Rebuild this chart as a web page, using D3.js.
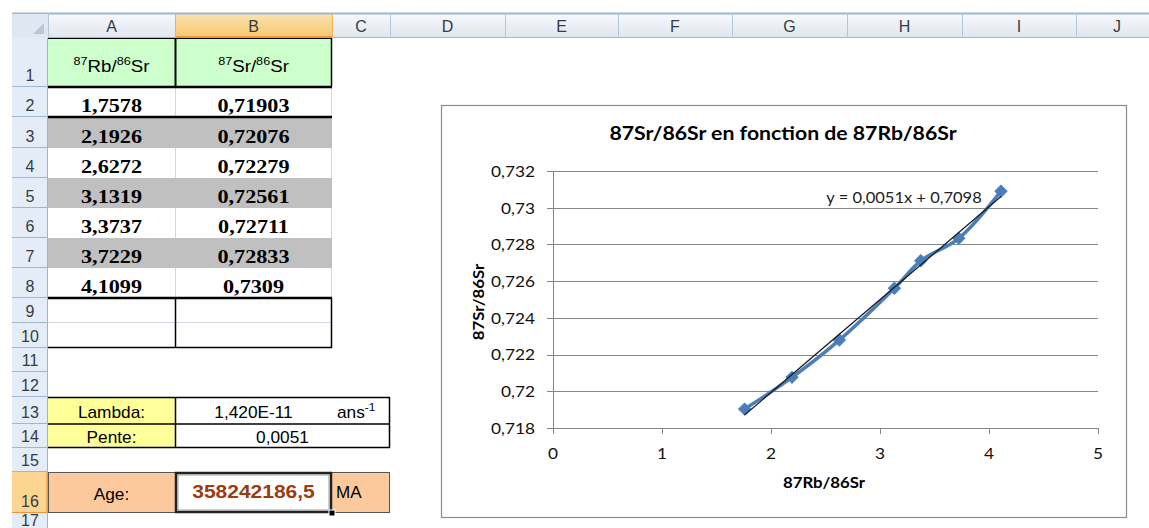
<!DOCTYPE html>
<html><head><meta charset="utf-8">
<script src="https://cdn.jsdelivr.net/npm/d3@7"></script>
<style>html,body{margin:0;padding:0;background:#fff;overflow:hidden}</style>
</head><body><svg id="c" width="1149" height="528"></svg>
<script>
// ---------- data ----------
const rbSr = [1.7578, 2.1926, 2.6272, 3.1319, 3.3737, 3.7229, 4.1099];
const srSr = [0.71903, 0.72076, 0.72279, 0.72561, 0.72711, 0.72833, 0.7309];
const xTicks = [0, 1, 2, 3, 4, 5];
const yTicks = [0.718, 0.72, 0.722, 0.724, 0.726, 0.728, 0.73, 0.732];
const colLetters = ["A", "B", "C", "D", "E", "F", "G", "H", "I", "J"];
const rowNumbers = [1, 2, 3, 4, 5, 6, 7, 8, 9, 10, 11, 12, 13, 14, 15, 16, 17];
const chartTitle = "87Sr/86Sr en fonction de 87Rb/86Sr";
const xTitle = "87Rb/86Sr";
const yTitle = "87Sr/86Sr";
const eqLabel = "y = 0,0051x + 0,7098";
const lambdaLabel = "Lambda:", lambdaValue = "1,420E-11", lambdaUnit = "ans";
const penteLabel = "Pente:", penteValue = "0,0051";
const ageLabel = "Age:", ageValue = "358242186,5", ageUnit = "MA";

// ---------- layout ----------
const W = 1149, H = 528;
const colX = [48, 175, 332, 390, 505, 618, 732, 847, 962, 1076, 1158];
const rowY = [38, 87, 117, 148, 178, 208, 238, 268, 298, 323, 348, 372, 397, 424, 448, 472, 513, 540];
const hdrTop = 13, rhLeft = 12;

const svg = d3.select("#c");
const defs = svg.append("defs");
function grad(id, c1, c2) {
  const g = defs.append("linearGradient").attr("id", id).attr("x1", 0).attr("y1", 0).attr("x2", 0).attr("y2", 1);
  g.append("stop").attr("offset", 0).attr("stop-color", c1);
  g.append("stop").attr("offset", 1).attr("stop-color", c2);
}
grad("hdr", "#f7f9fc", "#dfe6f0");
grad("hdrSel", "#fbe3b0", "#f6c76c");
const fmtC = v => String(v).replace(".", ",");
const SANS = "'Liberation Sans', Arial, sans-serif";
const SERIF = "'Liberation Serif', 'Times New Roman', serif";
const CAL = "Lato, 'Open Sans', sans-serif";

function txt(g, x, y, s, opt) {
  opt = opt || {};
  const t = g.append("text")
    .attr("transform", `translate(${x},${y}) ${opt.rot ? "rotate(" + opt.rot + ")" : ""} scale(${opt.sx || 1},1)`)
    .attr("text-anchor", opt.anchor || "middle")
    .attr("font-family", opt.family || SANS)
    .attr("font-size", opt.size || 15)
    .attr("font-weight", opt.weight || "normal")
    .attr("fill", opt.fill || "#000")
    .text(s);
  return t;
}

const sheet = svg.append("g");

// column header band
sheet.append("rect").attr("x", rhLeft).attr("y", hdrTop).attr("width", W - rhLeft).attr("height", rowY[0] - hdrTop).attr("fill", "url(#hdr)");
sheet.append("rect").attr("x", colX[1]).attr("y", hdrTop).attr("width", colX[2] - colX[1]).attr("height", rowY[0] - hdrTop).attr("fill", "url(#hdrSel)");
sheet.append("line").attr("x1", rhLeft).attr("x2", W).attr("y1", hdrTop + 0.5).attr("y2", hdrTop + 0.5).attr("stroke", "#9eb6ce").attr("stroke-width", 2);
sheet.append("line").attr("x1", rhLeft).attr("x2", W).attr("y1", rowY[0] - 0.5).attr("y2", rowY[0] - 0.5).attr("stroke", "#9eb6ce");
sheet.append("line").attr("x1", colX[1]).attr("x2", colX[2]).attr("y1", rowY[0] - 1).attr("y2", rowY[0] - 1).attr("stroke", "#f29536").attr("stroke-width", 2);
colX.slice(0, 10).forEach((x, i) => {
  sheet.append("line").attr("x1", x + 0.5).attr("x2", x + 0.5).attr("y1", hdrTop).attr("y2", rowY[0]).attr("stroke", i === 1 || i === 2 ? "#f0b25a" : "#b4c6da");
});
colLetters.forEach((c, i) => {
  txt(sheet, (colX[i] + colX[i + 1]) / 2, 32, c, { size: 16, fill: "#333b45" });
});
// select-all corner
sheet.append("rect").attr("x", rhLeft).attr("y", hdrTop + 1).attr("width", colX[0] - rhLeft).attr("height", rowY[0] - hdrTop - 1).attr("fill", "#dfe7f2");
sheet.append("path").attr("d", `M${colX[0] - 4},${rowY[0] - 4} L${colX[0] - 4},${rowY[0] - 15} L${colX[0] - 15},${rowY[0] - 4} Z`).attr("fill", "#b9c6d6");

// row headers
rowNumbers.forEach((n, i) => {
  const y0 = rowY[i], y1 = rowY[i + 1];
  const sel = n === 16;
  sheet.append("rect").attr("x", rhLeft).attr("y", y0).attr("width", colX[0] - rhLeft).attr("height", y1 - y0)
    .attr("fill", sel ? "#fdd592" : "#e4ecf7");
  sheet.append("line").attr("x1", rhLeft).attr("x2", colX[0]).attr("y1", y1 - 0.5).attr("y2", y1 - 0.5).attr("stroke", sel ? "#f29536" : "#9eb6ce");
  txt(sheet, (rhLeft + colX[0]) / 2, Math.min(y1 - 6, H - 2), String(n), { size: 16, fill: "#333b45" });
});
sheet.append("line").attr("x1", colX[0] - 0.5).attr("x2", colX[0] - 0.5).attr("y1", rowY[0]).attr("y2", H).attr("stroke", "#9eb6ce");
sheet.append("line").attr("x1", colX[0] - 0.5).attr("x2", colX[0] - 0.5).attr("y1", rowY[15]).attr("y2", rowY[16]).attr("stroke", "#f29536").attr("stroke-width", 2);

// ---------- data table ----------
const A0 = colX[0], A1 = colX[1], B1 = colX[2], C1 = colX[3];
sheet.append("rect").attr("x", A0).attr("y", rowY[0]).attr("width", B1 - A0).attr("height", rowY[1] - rowY[0]).attr("fill", "#ccffcc");
function supLabel(x, y, a, b, c, d) {
  const t = sheet.append("text").attr("transform", `translate(${x},${y}) scale(1.1,1)`).attr("text-anchor", "middle")
    .attr("font-family", SANS).attr("font-size", 17).attr("fill", "#000");
  t.append("tspan").attr("font-size", 11.5).attr("dy", -7).text(a);
  t.append("tspan").attr("dy", 7).text(b);
  t.append("tspan").attr("font-size", 11.5).attr("dy", -7).text(c);
  t.append("tspan").attr("dy", 7).text(d);
}
supLabel((A0 + A1) / 2, 72, "87", "Rb/", "86", "Sr");
supLabel((A1 + B1) / 2, 72, "87", "Sr/", "86", "Sr");

rbSr.forEach((v, i) => {
  const y0 = rowY[1 + i], y1 = rowY[2 + i];
  const gray = i % 2 === 1;
  sheet.append("rect").attr("x", A0).attr("y", y0).attr("width", B1 - A0).attr("height", y1 - y0).attr("fill", gray ? "#c0c0c0" : "#fff");
  sheet.append("line").attr("x1", A1 + 0.5).attr("x2", A1 + 0.5).attr("y1", y0).attr("y2", y1).attr("stroke", gray ? "#c0c0c0" : "#d0d7e5");
  if (!gray) sheet.append("line").attr("x1", B1 - 0.5).attr("x2", B1 - 0.5).attr("y1", y0).attr("y2", y1).attr("stroke", "#d0d7e5");
  txt(sheet, (A0 + A1) / 2, y1 - 5, fmtC(v), { family: SERIF, weight: "bold", size: 18.5, sx: 1.2 });
  txt(sheet, (A1 + B1) / 2, y1 - 5, fmtC(srSr[i]), { family: SERIF, weight: "bold", size: 18.5, sx: 1.2 });
});
const blk = (x1, y1, x2, y2, w) => sheet.append("line").attr("x1", x1).attr("y1", y1).attr("x2", x2).attr("y2", y2).attr("stroke", "#000").attr("stroke-width", w || 1);
blk(A0, rowY[0] + 0.5, B1, rowY[0] + 0.5, 1);
blk(A1 + 0.5, rowY[0], A1 + 0.5, rowY[1], 2);
blk(B1 - 0.5, rowY[0], B1 - 0.5, rowY[1], 1.5);
blk(A0, rowY[1], B1, rowY[1], 2.5);
blk(A0, rowY[2], B1, rowY[2], 2.5);
blk(A0, rowY[8], B1, rowY[8], 2.5);
sheet.append("line").attr("x1", A0).attr("x2", B1).attr("y1", rowY[9] - 0.5).attr("y2", rowY[9] - 0.5).attr("stroke", "#d0d7e5");
blk(A1 + 0.5, rowY[8], A1 + 0.5, rowY[10], 1.5);
blk(B1 - 0.5, rowY[8], B1 - 0.5, rowY[10], 1.5);
blk(A0, rowY[10] - 0.5, B1, rowY[10] - 0.5, 1.5);

// ---------- lambda / pente ----------
const r13 = rowY[12], r14 = rowY[13], r15 = rowY[14];
sheet.append("rect").attr("x", A0).attr("y", r13).attr("width", A1 - A0).attr("height", r15 - r13).attr("fill", "#ffff99");
blk(A0, r13 + 0.5, C1, r13 + 0.5, 1.5);
blk(A0, r14, C1, r14, 1.5);
blk(A0, r15 - 0.5, C1, r15 - 0.5, 1.5);
blk(A1 + 0.5, r13, A1 + 0.5, r15, 1.5);
blk(C1 - 0.5, r13, C1 - 0.5, r15, 1.5);
txt(sheet, (A0 + A1) / 2, r14 - 6, lambdaLabel, { size: 16, sx: 1.08 });
txt(sheet, (A0 + A1) / 2, r15 - 5, penteLabel, { size: 16, sx: 1.08 });
txt(sheet, (A1 + B1) / 2, r14 - 6, lambdaValue, { size: 16, sx: 1.08 });
txt(sheet, (A1 + C1) / 2, r15 - 5, penteValue, { size: 16, sx: 1.08 });
{
  const t = sheet.append("text").attr("transform", `translate(${B1 + 5},${r14 - 6}) scale(1.08,1)`)
    .attr("font-family", SANS).attr("font-size", 16).attr("fill", "#000");
  t.append("tspan").text(lambdaUnit);
  t.append("tspan").attr("font-size", 11).attr("dy", -7).text("-1");
}

// ---------- age row ----------
const r16 = rowY[15], r17 = rowY[16];
sheet.append("rect").attr("x", A0).attr("y", r16).attr("width", C1 - A0).attr("height", r17 - r16).attr("fill", "#fcc99c");
sheet.append("rect").attr("x", A0 + 0.5).attr("y", r16 + 0.5).attr("width", C1 - A0 - 1).attr("height", r17 - r16 - 1).attr("fill", "none").attr("stroke", "#555").attr("stroke-width", 1);
sheet.append("rect").attr("x", A1).attr("y", r16).attr("width", B1 - A1).attr("height", r17 - r16).attr("fill", "#fff");
sheet.append("rect").attr("x", A1 + 1).attr("y", r16 + 1).attr("width", B1 - A1 - 2).attr("height", r17 - r16 - 2).attr("fill", "none").attr("stroke", "#222").attr("stroke-width", 2.5);
sheet.append("rect").attr("x", A1 + 3).attr("y", r16 + 3).attr("width", B1 - A1 - 6).attr("height", r17 - r16 - 6).attr("fill", "none").attr("stroke", "#888").attr("stroke-width", 0.8);
sheet.append("rect").attr("x", B1 - 3).attr("y", r17 - 3).attr("width", 6).attr("height", 6).attr("fill", "#000").attr("stroke", "#fff");
txt(sheet, (A0 + A1) / 2, r17 - 13, ageLabel, { size: 16, sx: 1.08 });
txt(sheet, (A1 + B1) / 2, r17 - 15, ageValue, { size: 17.5, sx: 1.2, weight: "bold", fill: "#9c3c10" });
txt(sheet, B1 + 4, r17 - 15, ageUnit, { size: 17, anchor: "start" });

// ---------- chart ----------
const chart = svg.append("g");
const box = { x: 441, y: 105, w: 685, h: 412 };
chart.append("rect").attr("x", box.x + 0.5).attr("y", box.y + 0.5).attr("width", box.w).attr("height", box.h)
  .attr("fill", "#fff").attr("stroke", "#8c8c8c").attr("stroke-width", 1.2);

const x = d3.scaleLinear().domain([0, 5]).range([553, 1098]);
const y = d3.scaleLinear().domain([0.718, 0.732]).range([428, 171]);
const fmtTick = v => d3.format("~g")(+v.toFixed(4)).replace(".", ",");

chart.append("g").selectAll("line").data(yTicks).join("line")
  .attr("x1", x(0) - 6).attr("x2", x(5)).attr("y1", d => Math.round(y(d)) + 0.5).attr("y2", d => Math.round(y(d)) + 0.5)
  .attr("stroke", "#868686").attr("stroke-width", 1);
chart.append("line").attr("x1", x(0) + 0.5).attr("x2", x(0) + 0.5).attr("y1", y(0.732)).attr("y2", y(0.718)).attr("stroke", "#868686");
chart.append("g").selectAll("line").data(xTicks).join("line")
  .attr("x1", d => Math.round(x(d)) + 0.5).attr("x2", d => Math.round(x(d)) + 0.5).attr("y1", y(0.718)).attr("y2", y(0.718) + 6)
  .attr("stroke", "#868686");
chart.append("g").selectAll("text").data(yTicks).join("text")
  .attr("transform", d => `translate(535,${y(d) + 5.8}) scale(1.08,1)`).attr("text-anchor", "end")
  .attr("font-family", CAL).attr("font-size", 16).attr("fill", "#111").text(fmtTick);
chart.append("g").selectAll("text").data(xTicks).join("text")
  .attr("transform", d => `translate(${x(d)},459) scale(1.08,1)`).attr("text-anchor", "middle")
  .attr("font-family", CAL).attr("font-size", 16).attr("fill", "#111").text(d => String(d));

txt(chart, 783, 140, chartTitle, { family: CAL, weight: "bold", size: 18, sx: 1.18 });
txt(chart, 824, 488, xTitle, { family: CAL, weight: "bold", size: 15, sx: 1.12 });
txt(chart, 484, 302, yTitle, { family: CAL, weight: "bold", size: 15, sx: 1.12, rot: -90 });

// series
const pts = rbSr.map((v, i) => [v, srSr[i]]);
const line = d3.line().x(d => x(d[0])).y(d => y(d[1])).curve(d3.curveCatmullRom.alpha(0.5));
chart.append("path").attr("d", line(pts)).attr("fill", "none").attr("stroke", "#4a7ebb").attr("stroke-width", 3.5).attr("stroke-linejoin", "round");
const sym = d3.symbol().type(d3.symbolSquare).size(72);
chart.append("g").selectAll("path").data(pts).join("path")
  .attr("transform", d => `translate(${x(d[0])},${y(d[1])}) rotate(45)`)
  .attr("d", sym).attr("fill", "#4a7ebb").attr("stroke", "#4a7ebb").attr("stroke-width", 1);

// linear trendline (least squares of the series)
const mx = d3.mean(rbSr), my = d3.mean(srSr);
const slope = d3.sum(rbSr, (v, i) => (v - mx) * (srSr[i] - my)) / d3.sum(rbSr, v => (v - mx) * (v - mx));
const icpt = my - slope * mx;
const [xmin, xmax] = d3.extent(rbSr);
chart.append("line").attr("x1", x(xmin)).attr("y1", y(icpt + slope * xmin)).attr("x2", x(xmax)).attr("y2", y(icpt + slope * xmax))
  .attr("stroke", "#1a1a1a").attr("stroke-width", 1.3);
txt(chart, 904, 203, eqLabel, { family: CAL, size: 15, sx: 1.1, fill: "#222" });
</script></body></html>
